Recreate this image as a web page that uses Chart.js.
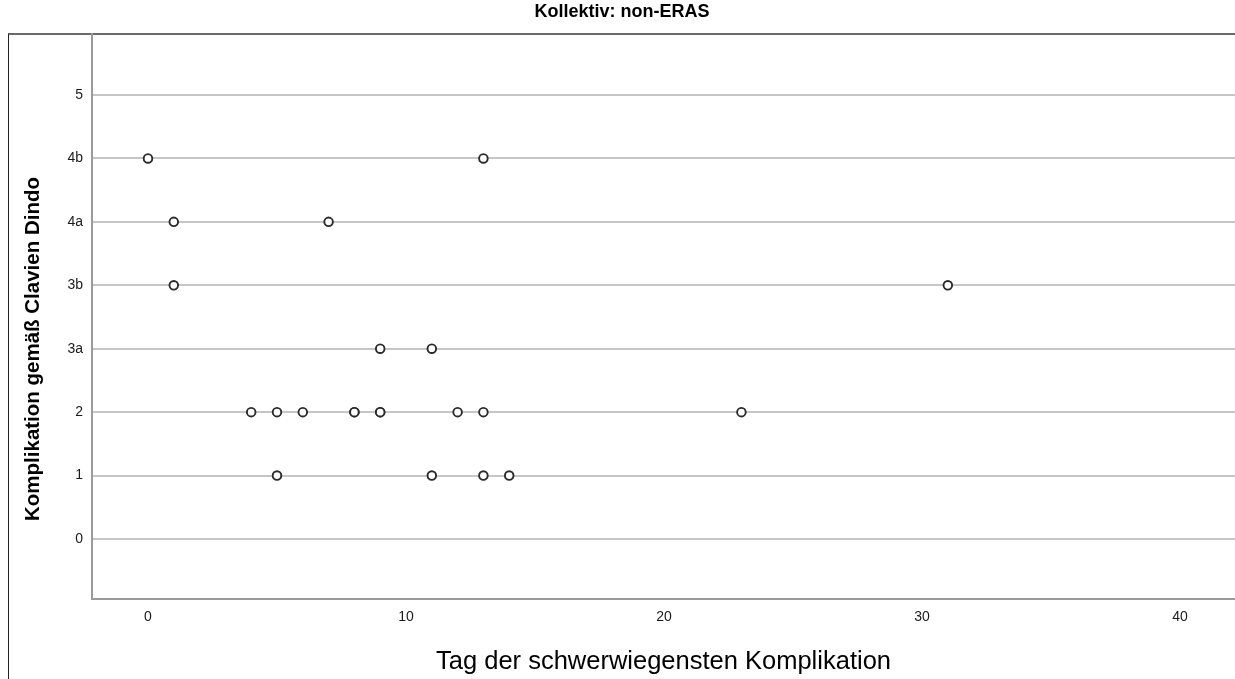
<!DOCTYPE html>
<html>
<head>
<meta charset="utf-8">
<script src="https://cdn.jsdelivr.net/npm/chart.js@4.4.1/dist/chart.umd.min.js"></script>
<style>
  html, body { margin: 0; padding: 0; background: #ffffff; }
  #wrap { position: relative; width: 1235px; height: 679px; overflow: hidden; }
  #frame {
    position: absolute; left: 8px; top: 33px; width: 1400px; height: 800px;
    border-left: 1px solid #222222; border-top: 2px solid #6a6a6a;
  }
  #c { position: absolute; left: 0; top: 0; }
</style>
</head>
<body>
<div id="wrap">
  <div id="frame"></div>
  <canvas id="c" width="1235" height="679"></canvas>
</div>
<script>
// Clavien-Dindo grades shown on the vertical axis (bottom to top)
const gradeCategories = ['0', '1', '2', '3a', '3b', '4a', '4b', '5'];

// Day of the most severe complication, one entry per patient
const complicationDay = [0, 13, 1, 7, 1, 31, 9, 11, 4, 5, 6, 8, 8, 9, 9, 12, 13, 23, 5, 11, 13, 14];
// Grade of that complication, same order as complicationDay
const complicationGrade = ['4b', '4b', '4a', '4a', '3b', '3b', '3a', '3a', '2', '2', '2', '2', '2', '2', '2', '2', '2', '2', '1', '1', '1', '1'];

// Horizontal axis tick values
const dayTicks = [0, 10, 20, 30, 40];

const points = complicationDay.map((d, i) => ({ x: d, y: gradeCategories.indexOf(complicationGrade[i]) }));

const fontFamily = '"Liberation Sans", Arial, sans-serif';

// Vertical axis title, centred on the figure below the header line
const sideTitle = {
  id: 'sideTitle',
  afterDraw(chart) {
    const ctx = chart.ctx;
    ctx.save();
    ctx.translate(33, 349);
    ctx.rotate(-Math.PI / 2);
    ctx.font = 'bold 20.5px ' + fontFamily;
    ctx.fillStyle = '#000000';
    ctx.textAlign = 'center';
    ctx.textBaseline = 'middle';
    ctx.fillText('Komplikation gemäß Clavien Dindo', 0, 0);
    ctx.restore();
  }
};

new Chart(document.getElementById('c'), {
  type: 'scatter',
  data: {
    datasets: [{
      data: points,
      pointStyle: 'circle',
      pointRadius: 4.3,
      pointBorderWidth: 1.9,
      pointBorderColor: '#2a2a2a',
      pointBackgroundColor: '#ffffff',
      pointHoverRadius: 4.3
    }]
  },
  plugins: [sideTitle],
  options: {
    responsive: false,
    animation: false,
    events: [],
    layout: { autoPadding: false, padding: { left: 9, right: 0, top: 0, bottom: 0 } },
    plugins: {
      legend: { display: false },
      tooltip: { enabled: false },
      title: {
        display: true,
        text: 'Kollektiv: non-ERAS',
        color: '#000000',
        font: { family: fontFamily, size: 18, weight: 'bold', lineHeight: 1.2 },
        padding: { top: 1, bottom: 11.4 }
      }
    },
    scales: {
      x: {
        type: 'linear',
        min: -2.17,
        max: 42.13,
        afterFit(scale) { scale.height = 80; },
        afterBuildTicks(scale) { scale.ticks = dayTicks.map(v => ({ value: v })); },
        grid: { display: false, drawTicks: false },
        border: { display: true, color: '#9a9a9a', width: 2 },
        ticks: {
          padding: 10,
          color: '#1a1a1a',
          font: { family: fontFamily, size: 14 },
          maxRotation: 0
        },
        title: {
          display: true,
          text: 'Tag der schwerwiegensten Komplikation',
          color: '#000000',
          font: { family: fontFamily, size: 25.5 },
          padding: { top: 0, bottom: 2 }
        }
      },
      y: {
        type: 'linear',
        min: -0.946,
        max: 7.962,
        afterFit(scale) { scale.width = 83; },
        afterBuildTicks(scale) { scale.ticks = gradeCategories.map((c, i) => ({ value: i })); },
        grid: { color: '#c6c6c6', lineWidth: 2, drawTicks: false },
        border: { display: true, color: '#9a9a9a', width: 2 },
        ticks: {
          padding: 9,
          color: '#1a1a1a',
          font: { family: fontFamily, size: 14 },
          callback: (v) => gradeCategories[v]
        }
      }
    }
  }
});
</script>
</body>
</html>
